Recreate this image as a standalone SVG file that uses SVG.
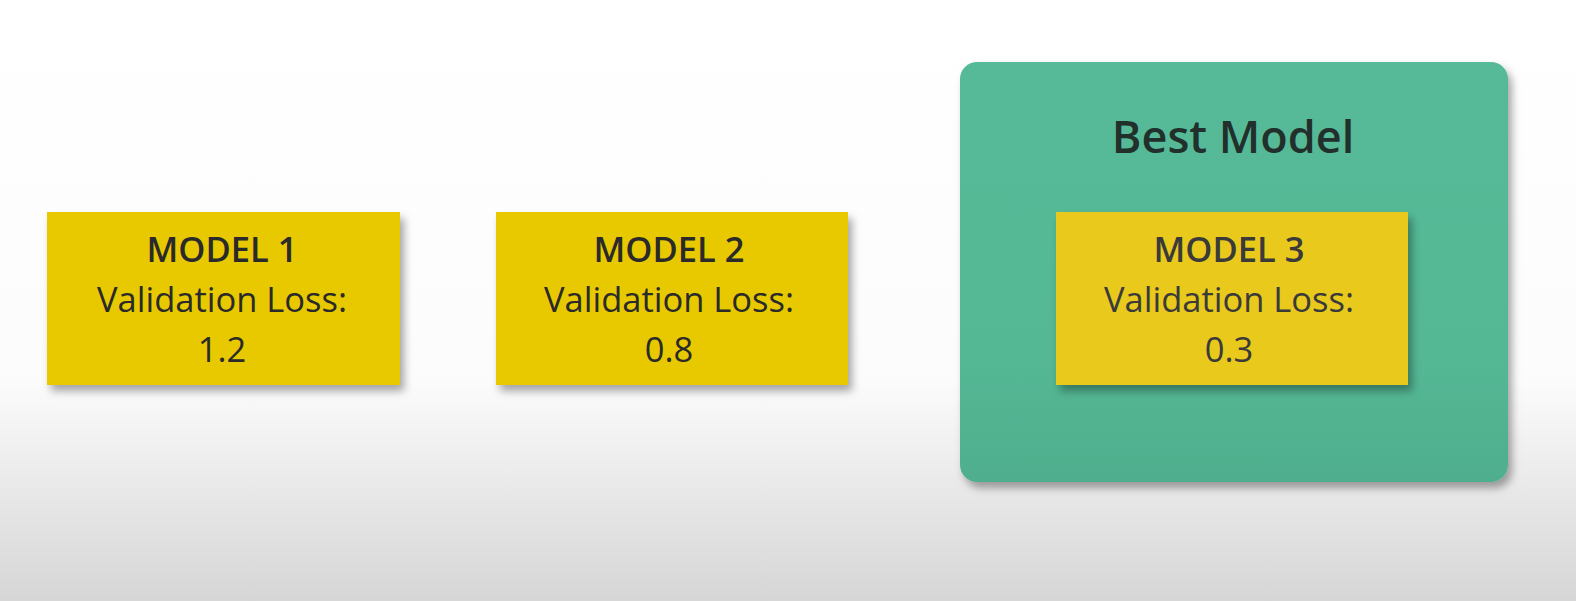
<svg xmlns="http://www.w3.org/2000/svg" width="1576" height="601" viewBox="0 0 1576 601">
  <defs>
    <linearGradient id="bg" x1="0" y1="0" x2="0" y2="1">
      <stop offset="0" stop-color="#ffffff"/>
      <stop offset="0.63" stop-color="#fcfcfc"/>
      <stop offset="0.8" stop-color="#eaeaea"/>
      <stop offset="1" stop-color="#d6d6d6"/>
    </linearGradient>
    <linearGradient id="green" x1="0" y1="0" x2="0" y2="1">
      <stop offset="0" stop-color="#56ba98"/>
      <stop offset="0.7" stop-color="#54b895"/>
      <stop offset="1" stop-color="#4fae8d"/>
    </linearGradient>
    <filter id="shadow" x="-10%" y="-10%" width="125%" height="130%">
      <feDropShadow dx="4" dy="6" stdDeviation="4" flood-color="#000000" flood-opacity="0.35"/>
    </filter>
  </defs>
  <style>
    .card { fill: #e8c904; filter: url(#shadow); }
    .card3 { fill: #e9c91a; filter: url(#shadow); }
    .title { font-family: "Open Sans", "Noto Sans", sans-serif; font-weight: 600; font-size: 34.5px; fill: #2a2a2a; text-anchor: middle; }
    .body { font-family: "Open Sans", "Noto Sans", sans-serif; font-weight: 400; font-size: 34.5px; fill: #2a2a2a; text-anchor: middle; }
    .t3 { fill: #3a3a3a; }
    .best { font-family: "Open Sans", "Noto Sans", sans-serif; font-weight: 600; font-size: 45px; fill: #22302c; text-anchor: middle; }
  </style>
  <rect x="0" y="0" width="1576" height="601" fill="url(#bg)"/>

  <g id="model1">
    <rect class="card" x="47" y="212" width="353" height="173"/>
    <text class="title" x="222" y="262">MODEL 1</text>
    <text class="body" x="222" y="312">Validation Loss:</text>
    <text class="body" x="222" y="362">1.2</text>
  </g>

  <g id="model2">
    <rect class="card" x="496" y="212" width="352" height="173"/>
    <text class="title" x="669" y="262">MODEL 2</text>
    <text class="body" x="669" y="312">Validation Loss:</text>
    <text class="body" x="669" y="362">0.8</text>
  </g>

  <g id="best-model">
    <rect x="960" y="62" width="548" height="420" rx="17" ry="17" fill="url(#green)" filter="url(#shadow)"/>
    <text class="best" x="1233" y="153">Best Model</text>
    <g id="model3">
      <rect class="card3" x="1056" y="212" width="352" height="173"/>
      <text class="title t3" x="1229" y="262">MODEL 3</text>
      <text class="body t3" x="1229" y="312">Validation Loss:</text>
      <text class="body t3" x="1229" y="362">0.3</text>
    </g>
  </g>

  <g id="connectors"/>
</svg>
